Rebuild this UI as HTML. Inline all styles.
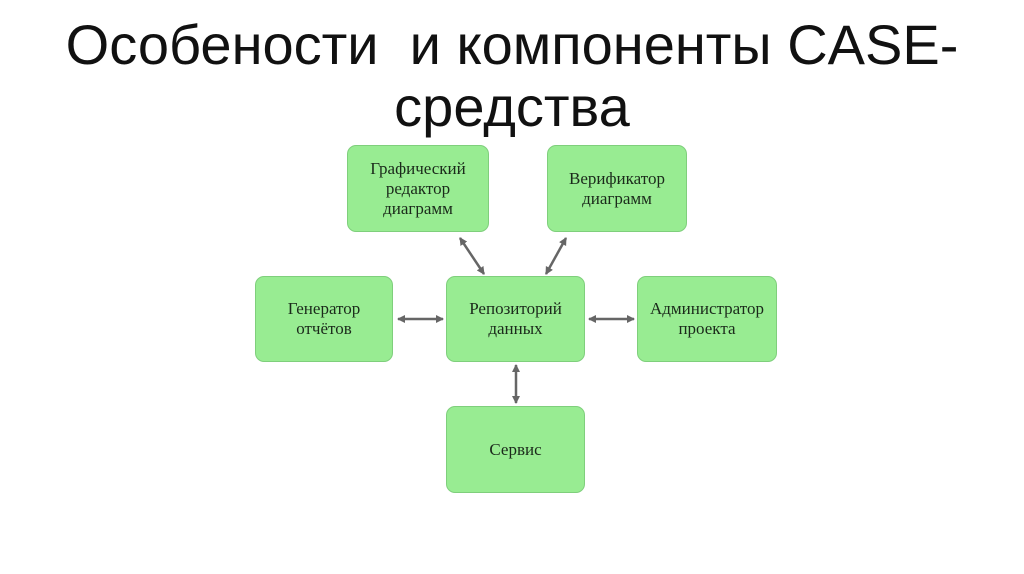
<!DOCTYPE html>
<html><head><meta charset="utf-8"><style>
body{margin:0;width:1024px;height:574px;background:#fff;position:relative;overflow:hidden;font-family:"Liberation Sans",sans-serif}
.t{position:absolute;left:0;width:1024px;text-align:center;font-size:56px;color:#111;line-height:62px}
.b{position:absolute;background:#98ec92;border:1px solid #7fcf7c;border-radius:9px;display:flex;align-items:center;justify-content:center;text-align:center;font-family:"Liberation Serif",serif;font-size:17px;line-height:20px;color:#1b2a1b;box-sizing:border-box}
</style></head><body>
<div class="t" style="top:14px">Особености&nbsp; и компоненты CASE-</div>
<div class="t" style="top:76px">средства</div>
<div class="b" style="left:347px;top:145px;width:142px;height:87px">Графический<br>редактор<br>диаграмм</div>
<div class="b" style="left:547px;top:145px;width:140px;height:87px">Верификатор<br>диаграмм</div>
<div class="b" style="left:255px;top:276px;width:138px;height:86px">Генератор<br>отчётов</div>
<div class="b" style="left:446px;top:276px;width:139px;height:86px">Репозиторий<br>данных</div>
<div class="b" style="left:637px;top:276px;width:140px;height:86px">Администратор<br>проекта</div>
<div class="b" style="left:446px;top:406px;width:139px;height:87px">Сервис</div>
<svg width="1024" height="574" style="position:absolute;left:0;top:0">
<defs><marker id="a" markerWidth="8" markerHeight="8" refX="7" refY="4" orient="auto-start-reverse" markerUnits="userSpaceOnUse"><path d="M0,0 L8,4 L0,8 z" fill="#666"/></marker></defs>
<g stroke="#666" stroke-width="2.5" fill="none">
<line x1="460" y1="238" x2="484" y2="274" marker-start="url(#a)" marker-end="url(#a)"/>
<line x1="566" y1="238" x2="546" y2="274" marker-start="url(#a)" marker-end="url(#a)"/>
<line x1="398" y1="319" x2="443" y2="319" marker-start="url(#a)" marker-end="url(#a)"/>
<line x1="589" y1="319" x2="634" y2="319" marker-start="url(#a)" marker-end="url(#a)"/>
<line x1="516" y1="365" x2="516" y2="403" marker-start="url(#a)" marker-end="url(#a)"/>
</g></svg>
</body></html>
